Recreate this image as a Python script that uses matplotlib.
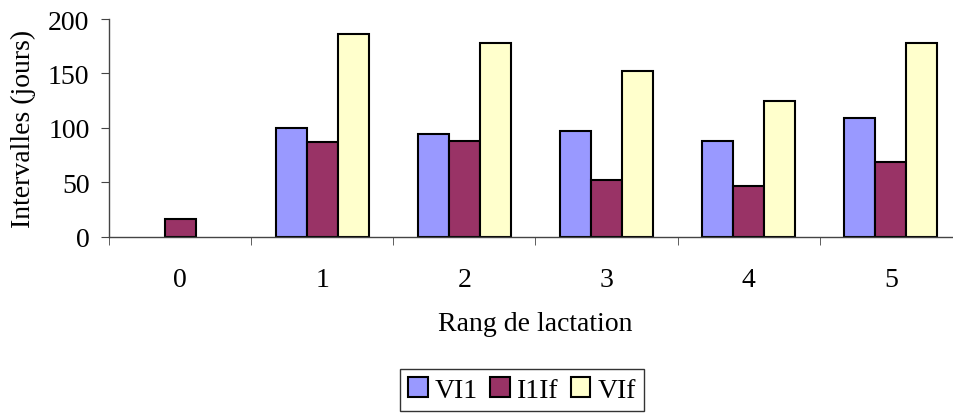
import numpy as np
import matplotlib.pyplot as plt

# data
rangs = ['0', '1', '2', '3', '4', '5']
vi1 = [np.nan, 100, 94, 97, 88, 109]
i1if = [16, 87, 88, 52, 47, 69]
vif = [np.nan, 186, 178, 152, 125, 178]
series_names = ['VI1', 'I1If', 'VIf']
colors = ['#9999FF', '#993366', '#FFFFCC']

plt.rcParams['font.family'] = ['Liberation Serif', 'DejaVu Serif']
fs = 20

fig = plt.figure(figsize=(9.54, 4.14), dpi=100)
ax = fig.add_axes([109 / 954, 1 - 237.7 / 414, (962 - 109) / 954, (237.7 - 20) / 414])

x = np.arange(len(rangs))
w = 0.218
for i, (vals, name, col) in enumerate(zip([vi1, i1if, vif], series_names, colors)):
    ax.bar(x + (i - 1) * w, vals, width=w, color=col, edgecolor='black',
           linewidth=1.5, label=name)

ax.set_xlim(-0.5, len(rangs) - 0.5)
ax.set_ylim(0, 200)
ax.set_yticks([0, 50, 100, 150, 200])
ax.set_xticks(x)
ax.set_xticklabels(rangs)
ax.set_xticks(np.arange(-0.5, len(rangs), 1), minor=True)
ax.tick_params(axis='x', which='major', length=0, pad=22, labelsize=fs)
ax.tick_params(axis='x', which='minor', length=6, direction='out', color='#444444')
ax.tick_params(axis='y', length=6, direction='out', color='#444444', labelsize=fs, pad=8)

for s in ['top', 'right']:
    ax.spines[s].set_visible(False)
for s in ['left', 'bottom']:
    ax.spines[s].set_color('#444444')
    ax.spines[s].set_linewidth(1)

ax.set_ylabel('Intervalles (jours)', fontsize=fs, va='center')
ax.yaxis.set_label_coords(-(109 - 23) / 853, 0.5)
ax.set_xlabel('Rang de lactation', fontsize=fs, va='center')
ax.xaxis.set_label_coords(0.5, -(325 - 237.7) / 217.7)

leg = fig.legend(loc='center', bbox_to_anchor=(522 / 954, 1 - 391 / 414), ncol=3,
                 fontsize=fs, frameon=True, fancybox=False, edgecolor='black',
                 handlelength=0.7, handleheight=0.7, handletextpad=0.25,
                 columnspacing=0.45, borderpad=0.3, borderaxespad=0)
leg.get_frame().set_linewidth(1)

fig.savefig('out.png', dpi=100)
